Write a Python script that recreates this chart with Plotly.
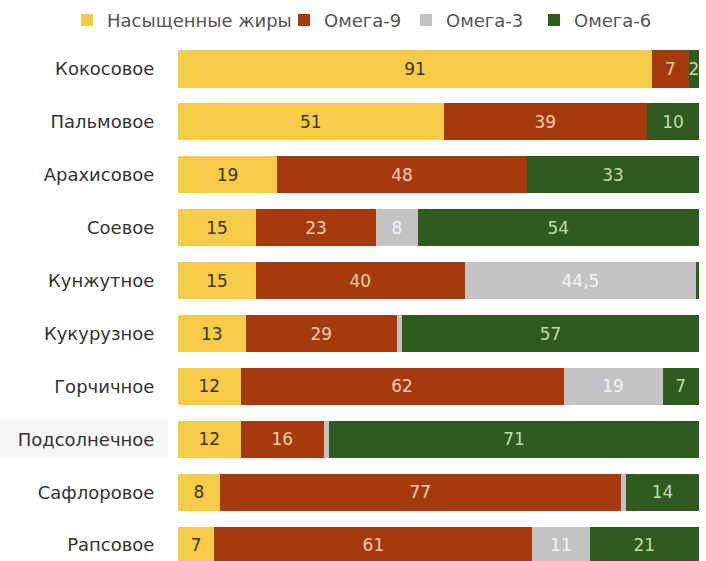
import plotly.graph_objects as go

# Fatty-acid composition of vegetable oils, % of total fat
oils = ["Кокосовое", "Пальмовое", "Арахисовое", "Соевое", "Кунжутное",
        "Кукурузное", "Горчичное", "Подсолнечное", "Сафлоровое", "Рапсовое"]
saturated = [91, 51, 19, 15, 15, 13, 12, 12, 8, 7]
omega9 = [7, 39, 48, 23, 40, 29, 62, 16, 77, 61]
omega3 = [0, 0, 0, 8, 44.5, 1, 19, 1, 1, 11]
omega6 = [2, 10, 33, 54, 0.5, 57, 7, 71, 14, 21]

series = [
    ("Насыщенные жиры", saturated, "#F6CB48", "#3C3520"),
    ("Омега-9", omega9, "#A53B0D", "#F2CDB0"),
    ("Омега-3", omega3, "#C3C3C6", "#F4F4F4"),
    ("Омега-6", omega6, "#2F5B1E", "#BFDDA8"),
]

FONT = "DejaVu Sans"
PLOT_L, PLOT_W = 178, 521

# each legend entry gets its own legend box so the entries sit where wanted
legend_left_px = [67, 284, 406, 534]
legend_ids = ["legend", "legend2", "legend3", "legend4"]


def fmt(v):
    if v < 2:
        return ""
    return f"{v:g}".replace(".", ",")


fig = go.Figure()
for (name, vals, color, txtcolor), lid in zip(series, legend_ids):
    fig.add_trace(go.Bar(
        name=name,
        y=oils,
        x=vals,
        orientation="h",
        legend=lid,
        marker=dict(color=color, line=dict(width=0)),
        text=[fmt(v) for v in vals],
        textposition="inside",
        insidetextanchor="middle",
        textangle=0,
        textfont=dict(family=FONT, size=17, color=txtcolor),
        cliponaxis=False,
    ))

# faint highlight behind one category label
fig.add_shape(type="rect", xref="paper", yref="y",
              x0=-PLOT_L / PLOT_W, x1=-10 / PLOT_W, y0=6.62, y1=7.36,
              fillcolor="rgba(0,0,0,0.035)", line=dict(width=0), layer="below")

legend_style = dict(
    orientation="h",
    xanchor="left",
    y=1.042, yanchor="middle",
    font=dict(family=FONT, size=18, color="#555555"),
    itemwidth=30,
    bgcolor="rgba(0,0,0,0)",
)
legends = {}
for lid, px in zip(legend_ids, legend_left_px):
    legends[lid] = dict(legend_style, x=(px - PLOT_L) / PLOT_W)

fig.update_layout(
    width=706, height=561,
    barmode="stack",
    bargap=0.3,
    margin=dict(l=PLOT_L, r=706 - PLOT_L - PLOT_W, t=42, b=0),
    paper_bgcolor="white",
    plot_bgcolor="white",
    font=dict(family=FONT, size=18, color="#333333"),
    uniformtext=dict(minsize=17, mode="show"),
    showlegend=True,
    xaxis=dict(range=[0, 100], visible=False, fixedrange=True),
    yaxis=dict(
        type="category",
        categoryorder="array",
        categoryarray=oils,
        range=[9.3, -0.51],
        showgrid=False,
        zeroline=False,
        showline=False,
        ticks="outside",
        ticklen=19,
        tickcolor="rgba(0,0,0,0)",
        tickfont=dict(family=FONT, size=18, color="#333333"),
    ),
    **legends,
)

fig.write_html("out.html")
